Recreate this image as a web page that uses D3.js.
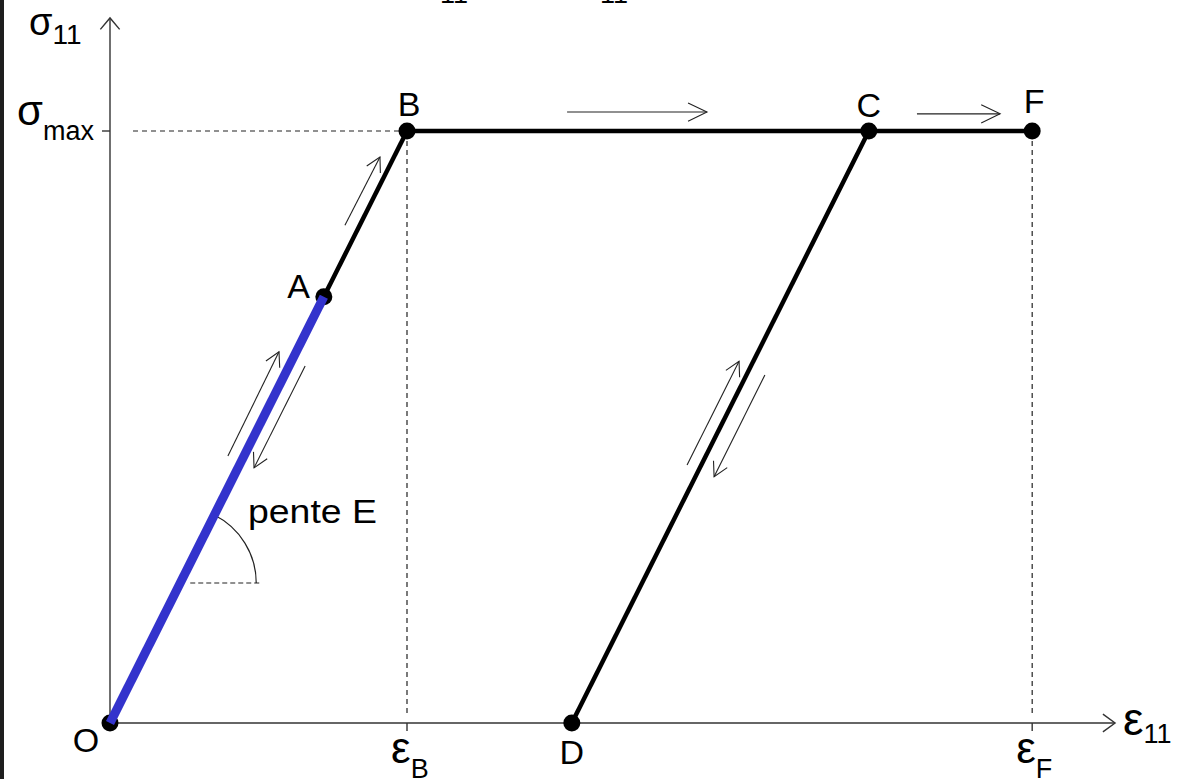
<!DOCTYPE html>
<html>
<head>
<meta charset="utf-8">
<script src="https://cdn.jsdelivr.net/npm/d3@7"></script>
<style>
  html, body { margin: 0; padding: 0; background: #fff; }
  svg { display: block; }
  text { font-family: "Liberation Sans", Arial, sans-serif; fill: #000; }
</style>
</head>
<body>
<script>
// Elastic – perfectly plastic behaviour: σ11 versus ε11
// Characteristic points (strain, stress), normalised so that εB = 1 and σmax = 1
const pointNames = ["O", "A", "B", "C", "D", "F"];
const strain     = [0, 0.72, 1, 2.555, 1.555, 3.105];
const stress     = [0, 0.72, 1, 1, 0, 1];

// Path segments between named points
const blueSegment  = ["O", "A"];
const blackSegments = [["A", "B"], ["B", "F"], ["D", "C"]];

// Axis annotations
const xTickNames = ["B", "F"];          // εB, εF
const yTickName  = "max";               // σmax
const axisEnd    = { strain: 3.384, stress: 1.191 };

// Loading-direction arrows, [strain0, stress0, strain1, stress1]
const pathArrows = [
  [1.539, 1.032, 2.010, 1.032],
  [2.717, 1.029, 2.997, 1.029],
  [0.791, 0.841, 0.909, 0.956],
  [0.397, 0.451, 0.569, 0.627],
  [0.657, 0.603, 0.485, 0.431],
  [1.943, 0.436, 2.118, 0.611],
  [2.205, 0.588, 2.034, 0.416]
];

// Slope marker on the elastic branch
const slopeStress = 0.2365;
const slopeLabel = "pente E";

const W = 1177, H = 779;
const svg = d3.select("body").append("svg").attr("width", W).attr("height", H);

const x = d3.scaleLinear().domain([0, 1]).range([110, 407]);
const y = d3.scaleLinear().domain([0, 1]).range([723, 131]);

const pts = {};
pointNames.forEach((n, i) => pts[n] = { e: strain[i], s: stress[i] });

// dark frame edge on the left
svg.append("rect").attr("x", 0).attr("y", 0).attr("width", 4).attr("height", H).attr("fill", "#1e1e1e");

// heading above the plot (only its subscripts reach into view)
const head = svg.append("g");
head.append("text").attr("x", 440).attr("y", 3).attr("font-size", 27).text("11");
head.append("text").attr("x", 600).attr("y", 3).attr("font-size", 27).text("11");

const axisColor = "#333";
const gAxes = svg.append("g").attr("stroke", axisColor).attr("stroke-width", 1.4).attr("fill", "none");

// open arrowhead helper
function arrowHead(g, x1, y1, x2, y2, len, ang) {
  const a = Math.atan2(y2 - y1, x2 - x1);
  const p1 = [x2 - len * Math.cos(a - ang), y2 - len * Math.sin(a - ang)];
  const p2 = [x2 - len * Math.cos(a + ang), y2 - len * Math.sin(a + ang)];
  g.append("path").attr("d", `M${p1[0]},${p1[1]}L${x2},${y2}L${p2[0]},${p2[1]}`);
}
gAxes.append("line").attr("x1", x(0)).attr("y1", y(0)).attr("x2", x(axisEnd.strain)).attr("y2", y(0));
arrowHead(gAxes, x(0), y(0), x(axisEnd.strain), y(0), 15, Math.PI / 5);
gAxes.append("line").attr("x1", x(0)).attr("y1", y(0)).attr("x2", x(0)).attr("y2", y(axisEnd.stress));
arrowHead(gAxes, x(0), y(0), x(0), y(axisEnd.stress), 15, Math.PI / 4.5);

// ticks
gAxes.append("line").attr("x1", x(0) - 8).attr("x2", x(0)).attr("y1", y(1)).attr("y2", y(1));
xTickNames.forEach(n => {
  gAxes.append("line").attr("x1", x(pts[n].e)).attr("x2", x(pts[n].e)).attr("y1", y(0)).attr("y2", y(0) + 8);
});

// dashed guide lines
const gDash = svg.append("g").attr("stroke", "#222").attr("stroke-width", 1.2).attr("stroke-dasharray", "5,4").attr("fill", "none");
gDash.append("line").attr("x1", x(0) + 23).attr("x2", x(pts.B.e) - 7).attr("y1", y(1)).attr("y2", y(1));
xTickNames.forEach(n => {
  gDash.append("line").attr("x1", x(pts[n].e)).attr("x2", x(pts[n].e)).attr("y1", y(pts[n].s) + 10).attr("y2", y(0) - 10);
});

// slope marker: dashed horizontal + arc
const cx = x(slopeStress), cy = y(slopeStress);
svg.append("line").attr("x1", cx + 10).attr("x2", cx + 82).attr("y1", cy).attr("y2", cy)
  .attr("stroke", "#222").attr("stroke-width", 1.2).attr("stroke-dasharray", "5,3");
const slopeAng = Math.atan2(y(0) - y(1), x(1) - x(0));
svg.append("path").attr("d", d3.arc()({ innerRadius: 76, outerRadius: 76, startAngle: Math.PI / 2 - slopeAng, endAngle: Math.PI / 2 }))
  .attr("transform", `translate(${cx},${cy})`).attr("fill", "none").attr("stroke", "#222").attr("stroke-width", 1.2);
svg.append("text").attr("x", 248).attr("y", 523).attr("font-size", 33).attr("textLength", 129).attr("lengthAdjust", "spacingAndGlyphs").text(slopeLabel);

// direction arrows
const gArr = svg.append("g").attr("stroke", "#222").attr("stroke-width", 1.1).attr("fill", "none");
pathArrows.forEach(a => {
  const x1 = x(a[0]), y1 = y(a[1]), x2 = x(a[2]), y2 = y(a[3]);
  gArr.append("line").attr("x1", x1).attr("y1", y1).attr("x2", x2).attr("y2", y2);
  const horiz = Math.abs(y2 - y1) < 1;
  arrowHead(gArr, x1, y1, x2, y2, horiz ? 21 : 16, horiz ? 0.45 : 0.5);
});

// points
svg.append("g").selectAll("circle").data(pointNames).join("circle")
  .attr("cx", n => x(pts[n].e)).attr("cy", n => y(pts[n].s)).attr("r", 8.5).attr("fill", "#000");

// branches
const line = d3.line().x(n => x(pts[n].e)).y(n => y(pts[n].s));
svg.append("g").selectAll("path").data(blackSegments).join("path")
  .attr("d", line).attr("stroke", "#000").attr("stroke-width", 4.5).attr("fill", "none");
svg.append("path").attr("d", line(blueSegment)).attr("stroke", "#3333cc").attr("stroke-width", 9).attr("fill", "none");

// point labels
const labelOffset = { O: [-24, 29, "middle"], A: [-14, 1, "end"], B: [2, -15, "middle"], C: [0, -14, "middle"], D: [0, 41, "middle"], F: [2, -18, "middle"] };
svg.append("g").selectAll("text").data(pointNames).join("text")
  .attr("x", n => x(pts[n].e) + labelOffset[n][0]).attr("y", n => y(pts[n].s) + labelOffset[n][1])
  .attr("text-anchor", n => labelOffset[n][2]).attr("font-size", 34).text(n => n);

// axis titles and tick labels (symbol + subscript)
function symLabel(xp, yp, sym, sub, symSize, subSize, subDy, anchorEnd) {
  const t = svg.append("text").attr("x", xp).attr("y", yp).attr("font-size", symSize);
  t.append("tspan").text(sym);
  t.append("tspan").attr("font-size", subSize).attr("dy", subDy).text(sub);
  if (anchorEnd) t.attr("text-anchor", "end");
  return t;
}
symLabel(29, 35, "σ", "11", 38, 28, 9);
symLabel(94, 125, "σ", yTickName, 42, 27, 15, true);
symLabel(1123, 735, "ε", "11", 46, 27, 8);
xTickNames.forEach(n => {
  symLabel(x(pts[n].e) - 16, 763, "ε", n, 44, 27, 15);
});
</script>
</body>
</html>
